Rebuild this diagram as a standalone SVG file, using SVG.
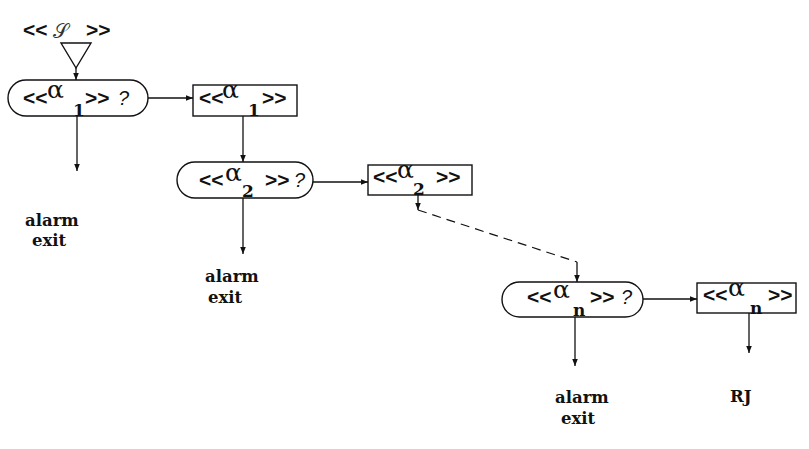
<svg xmlns="http://www.w3.org/2000/svg" width="809" height="449" viewBox="0 0 809 449">
<defs>
<marker id="ah" viewBox="0 0 10 10" refX="10" refY="5" markerWidth="9" markerHeight="7" markerUnits="userSpaceOnUse" orient="auto"><path d="M0,1 L10,5 L0,9 z" fill="#111"/></marker>
<style>
.sh{fill:#fff;stroke:#111;stroke-width:1.4}
.ln{fill:none;stroke:#111;stroke-width:1.3;marker-end:url(#ah)}
.dash{fill:none;stroke:#111;stroke-width:1.2;stroke-dasharray:9 6}
.ch{font-family:"Liberation Sans",Arial,sans-serif;font-weight:bold;font-size:21px;fill:#111}
.al{font-family:"DejaVu Serif","Liberation Serif",serif;font-size:25px;fill:#111}
.sb{font-family:"DejaVu Serif","Liberation Serif",serif;font-weight:bold;font-size:17px;fill:#111}
.q{font-family:"Liberation Sans",Arial,sans-serif;font-style:italic;font-size:20px;fill:#111}
.lb{font-family:"DejaVu Serif","Liberation Serif",serif;font-weight:bold;font-size:16.5px;fill:#111}
</style>
</defs>
<g id="start">
<text x="23" y="37" class="ch">&lt;&lt;</text>
<text x="53" y="38" font-family="DejaVu Serif,serif" font-size="20" fill="#333">𝒮</text>
<text x="86" y="37" class="ch">&gt;&gt;</text>
<polygon points="61,43 91,43 76,68" class="sh"/>
</g>
<g id="q1">
<rect x="8" y="80" width="140" height="36" rx="18" ry="18" class="sh"/>
<text x="23" y="105" class="ch">&lt;&lt;</text>
<text x="47" y="98" class="al">α</text>
<text x="73" y="116" class="sb">1</text>
<text x="85" y="105" class="ch">&gt;&gt;</text>
<text x="118" y="105" class="q">?</text>
</g>
<g id="b1">
<rect x="193" y="85" width="104" height="31" class="sh"/>
<text x="199" y="105" class="ch">&lt;&lt;</text>
<text x="222" y="98" class="al">α</text>
<text x="248" y="116" class="sb">1</text>
<text x="262" y="105" class="ch">&gt;&gt;</text>
</g>
<g id="q2">
<rect x="177" y="162" width="136" height="36" rx="18" ry="18" class="sh"/>
<text x="199" y="187" class="ch">&lt;&lt;</text>
<text x="225" y="181" class="al">α</text>
<text x="242" y="197" class="sb">2</text>
<text x="265" y="187" class="ch">&gt;&gt;</text>
<text x="294" y="187" class="q">?</text>
</g>
<g id="b2">
<rect x="368" y="165" width="104" height="30" class="sh"/>
<text x="373" y="184" class="ch">&lt;&lt;</text>
<text x="397" y="178" class="al">α</text>
<text x="413" y="195" class="sb">2</text>
<text x="436" y="184" class="ch">&gt;&gt;</text>
</g>
<g id="qn">
<rect x="502" y="282" width="141" height="35" rx="17.5" ry="17.5" class="sh"/>
<text x="527" y="304" class="ch">&lt;&lt;</text>
<text x="553" y="298" class="al">α</text>
<text x="573" y="316" class="sb">n</text>
<text x="590" y="304" class="ch">&gt;&gt;</text>
<text x="621" y="304" class="q">?</text>
</g>
<g id="bn">
<rect x="697" y="283" width="99" height="30" class="sh"/>
<text x="703" y="302" class="ch">&lt;&lt;</text>
<text x="728" y="296" class="al">α</text>
<text x="750" y="314" class="sb">n</text>
<text x="768" y="302" class="ch">&gt;&gt;</text>
</g>
<g id="labels">
<text x="25" y="226" class="lb">alarm</text>
<text x="32" y="246" class="lb">exit</text>
<text x="205" y="282" class="lb">alarm</text>
<text x="208" y="303" class="lb">exit</text>
<text x="555" y="403" class="lb">alarm</text>
<text x="561" y="424" class="lb">exit</text>
<text x="730" y="402" class="lb">RJ</text>
</g>
<g id="connectors">
<path d="M76,68 V80" class="ln"/>
<path d="M148,98 H193" class="ln"/>
<path d="M77,116 V171" class="ln"/>
<path d="M243,116 V162" class="ln"/>
<path d="M313,182 H368" class="ln"/>
<path d="M243,198 V254" class="ln"/>
<path d="M418,195 V210" class="ln"/>
<path d="M418,210 L577,262" class="dash"/>
<path d="M577,262 V282" class="ln"/>
<path d="M643,299 H697" class="ln"/>
<path d="M575,317 V366" class="ln"/>
<path d="M749,313 V353" class="ln"/>
</g>
</svg>
